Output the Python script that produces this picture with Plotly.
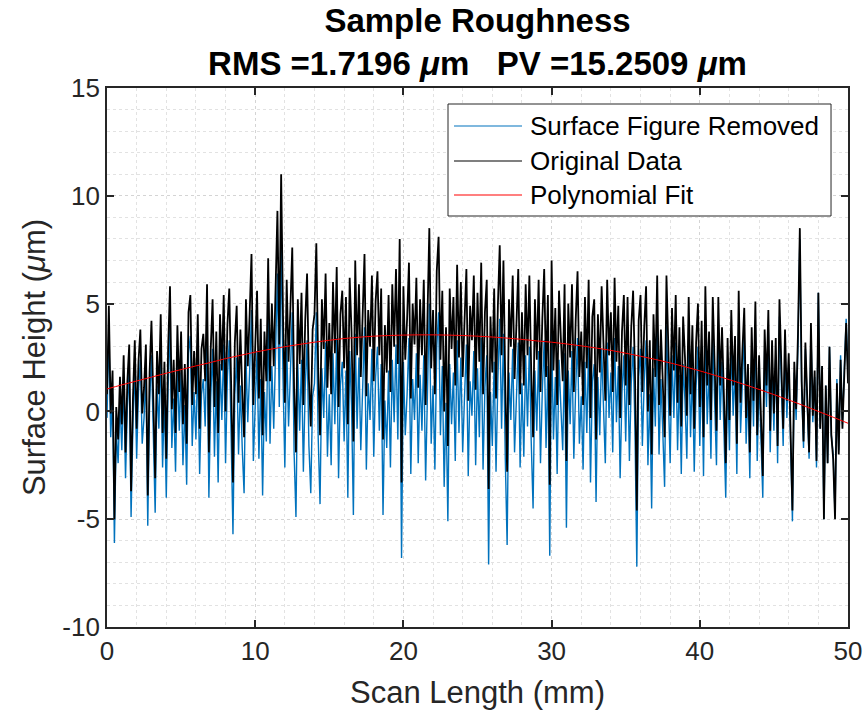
import numpy as np
import plotly.graph_objects as go

# ---------------- data ----------------
scan_length = np.linspace(0, 50, 401)  # mm, sample positions

surface_removed = [
    -0.3, 3.8, -1.2, 0.8, -6.1, -0.9, -2.4, 0.5,
    -1.8, 1.4, -3.1, 0.2, 1.9, -4.9, -0.6, 2.1,
    -2.2, 0.9, 2.4, -1.5, -0.3, 1.7, -5.3, 0.4,
    2.6, -1.9, -4.7, 1.2, -0.8, 2.9, -2.6, 0.7,
    -4.0, 1.1, 4.0, -1.7, 0.6, -2.8, 2.2, -0.9,
    1.8, -2.5, 0.3, -3.4, 2.7, 3.5, -1.6, 0.9,
    -1.3, 2.4, -2.9, 0.8, 1.5, -0.7, 3.8, -4.0,
    0.6, 2.9, -2.1, 1.4, -3.3, 2.2, -0.4, 3.1,
    -2.4, 1.6, 3.3, -1.1, -5.7, 0.8, 2.5, -2.0,
    1.2, -1.7, -3.8, 2.6, -0.5, 1.9, 4.7, -2.3,
    0.4, 2.8, -2.2, 1.5, -3.9, 0.9, -1.4, 4.3,
    -1.5, 2.1, -0.8, 3.0, 6.4, 0.2, 8.1, 1.6,
    -2.6, 3.1, -0.7, 1.8, 4.6, -1.9, -4.9, 2.2,
    -0.9, 2.4, -2.8, 1.1, 3.3, -1.6, -3.8, 0.7,
    1.3, 4.6, -1.2, -4.3, 2.0, -0.3, 3.2, -2.1,
    0.8, -2.5, 2.7, -0.6, 3.4, -3.1, 1.2, 2.3,
    -1.4, 1.9, -4.0, 2.8, 0.3, -4.8, 3.6, -0.8,
    2.5, -1.8, 0.9, 3.9, -2.7, 1.3, -0.4, 2.9,
    -2.1, 1.6, 3.0, -0.9, 2.2, -4.8, 0.5, -1.7,
    1.9, -2.6, 2.4, -0.5, 3.1, -1.3, 4.5, -6.8,
    2.3, -1.1, 0.8, 3.4, -2.9, 1.5, -0.4, 2.7,
    -2.4, 1.7, -0.9, 2.6, -3.2, 0.6, 5.0, -1.5,
    1.2, -2.7, 3.0, 4.6, -1.1, 2.1, -3.5, 0.4,
    -5.1, 2.2, -0.6, 1.8, -2.3, 3.3, -1.0, 2.5,
    -1.9, 0.7, 3.1, -3.0, 1.4, -0.2, 2.8, -2.5,
    2.0, -1.2, 3.4, -2.7, 1.1, 2.6, -7.1, 0.9,
    -1.6, 2.3, -2.8, 1.5, 4.3, -0.8, 3.6, -2.2,
    -6.2, 1.8, -0.4, 2.9, -1.9, 0.6, 3.2, -2.6,
    1.3, -2.1, 2.6, -0.7, 3.0, -1.4, -4.5, 1.9,
    -0.9, 2.8, -2.4, 1.0, 3.3, -1.7, 2.1, -6.7,
    3.8, -1.3, 1.6, -2.9, 2.4, 0.2, -1.8, 2.7,
    -5.4, 1.9, -0.6, 2.8, -2.2, 1.1, 3.4, -1.5,
    0.7, -2.7, 2.3, -1.0, 3.1, -3.3, 1.4, 2.2,
    -4.2, 1.6, -1.1, 2.9, 0.4, -2.4, 3.2, -0.3,
    1.8, -1.9, 3.4, -0.5, 2.1, -3.1, 0.9, 2.6,
    -1.4, 2.7, -2.3, 1.3, 3.0, -0.8, -7.2, 1.6,
    2.9, -1.6, 1.4, 3.3, -2.5, 0.8, -4.5, 2.0,
    -0.7, 4.0, -2.0, 1.5, -0.9, -3.5, 4.0, 0.6,
    -2.4, 2.6, -0.3, 3.2, -1.8, 1.7, -2.9, 2.2,
    0.5, -2.2, 3.3, -1.2, 2.0, -2.8, 1.2, 3.0,
    -1.6, 2.4, -3.0, 4.0, -0.6, 1.9, -2.2, 3.5,
    0.9, -2.5, 3.7, -0.4, 2.3, -1.4, -4.0, 1.8,
    -1.8, 3.3, -0.2, 2.1, -2.9, 4.2, -1.0, 1.4,
    3.6, -1.5, 1.0, -3.1, 2.7, -0.7, 3.9, -2.3,
    1.6, -1.2, -4.0, 2.8, 0.2, 3.7, -1.9, 2.3,
    -0.9, 2.6, -2.4, 4.4, 0.7, -1.6, 3.0, -0.3,
    2.2, -1.3, -5.1, 1.8, -0.4, 3.1, 8.0, 0.9,
    -1.7, 2.9, 0.4, -2.2, 3.8, -0.5, 1.6, -2.6,
    5.5, -0.8, 2.1, -5.0, 1.2, -2.4, 3.0, -1.1,
    -2.0, -4.8, 1.5, -1.8, 2.6, -0.6, 1.9, 4.3,
    1.8,
]

original_data = [
    0.8, 4.9, -0.1, 1.9, -5.0, 0.2, -1.3, 1.6,
    -0.6, 2.6, -1.9, 1.4, 3.1, -3.7, 0.6, 3.3,
    -0.8, 2.3, 3.8, -0.1, 1.1, 3.1, -3.9, 1.8,
    4.2, -0.3, -3.1, 2.8, 0.8, 4.5, -1.0, 2.3,
    -2.2, 2.9, 5.8, 0.1, 2.4, -1.0, 4.0, 0.9,
    3.7, -0.6, 2.2, -1.5, 4.6, 5.4, 0.3, 2.8,
    0.8, 4.5, -0.8, 2.9, 3.6, 1.4, 5.9, -1.9,
    2.9, 5.2, 0.2, 3.7, -1.0, 4.5, 1.9, 5.4,
    0.0, 4.0, 5.7, 1.3, -3.3, 3.2, 4.9, 0.4,
    3.8, 0.9, -1.2, 5.2, 2.1, 4.5, 7.3, 0.3,
    3.2, 5.6, 0.6, 4.3, -1.1, 3.7, 1.4, 7.1,
    1.4, 5.0, 2.1, 5.9, 9.3, 3.1, 11.0, 4.5,
    0.4, 6.1, 2.3, 4.8, 7.6, 1.1, -1.9, 5.2,
    2.2, 5.5, 0.3, 4.2, 6.4, 1.5, -0.7, 3.8,
    4.5, 7.8, 2.0, -1.1, 5.2, 2.9, 6.4, 1.1,
    4.1, 0.8, 6.0, 2.7, 6.7, 0.2, 4.5, 5.6,
    2.0, 5.3, -0.6, 6.2, 3.7, -1.4, 7.0, 2.6,
    5.9, 1.6, 4.3, 7.3, 0.7, 4.7, 3.0, 6.3,
    1.4, 5.1, 6.5, 2.6, 5.7, -1.3, 4.0, 1.8,
    5.4, 0.9, 5.9, 3.0, 6.6, 2.2, 8.0, -3.3,
    5.8, 2.4, 4.3, 6.9, 0.6, 5.0, 3.1, 6.2,
    1.1, 5.2, 2.6, 6.1, 0.3, 4.1, 8.5, 2.0,
    4.7, 0.8, 6.5, 8.1, 2.4, 5.6, 0.0, 3.9,
    -1.6, 5.7, 2.9, 5.3, 1.2, 6.8, 2.5, 6.0,
    1.6, 4.2, 6.6, 0.5, 4.9, 3.3, 6.3, 1.0,
    5.5, 2.3, 6.9, 0.8, 4.6, 6.1, -3.6, 4.4,
    1.8, 5.7, 0.6, 4.9, 7.7, 2.6, 7.0, 1.2,
    -2.8, 5.2, 3.0, 6.3, 1.5, 4.0, 6.6, 0.8,
    4.6, 1.2, 5.9, 2.6, 6.3, 1.9, -1.2, 5.2,
    2.4, 6.1, 0.9, 4.3, 6.6, 1.6, 5.4, -3.4,
    7.0, 1.9, 4.8, 0.3, 5.6, 3.4, 1.4, 5.9,
    -2.3, 5.0, 2.5, 5.9, 0.9, 4.2, 6.5, 1.6,
    3.7, 0.3, 5.3, 2.0, 6.1, -0.3, 4.4, 5.2,
    -1.3, 4.5, 1.8, 5.8, 3.3, 0.5, 6.1, 2.6,
    4.6, 0.9, 6.2, 2.3, 4.9, -0.3, 3.7, 5.4,
    1.2, 5.3, 0.3, 3.9, 5.6, 1.8, -4.6, 4.2,
    5.4, 0.9, 3.9, 5.8, 0.0, 3.3, -2.0, 4.5,
    1.6, 6.3, 0.3, 3.8, 1.4, -1.2, 6.3, 2.9,
    -0.2, 4.8, 1.9, 5.4, 0.4, 3.9, -0.7, 4.4,
    2.5, -0.2, 5.3, 0.8, 4.0, -0.8, 3.2, 5.0,
    0.2, 4.2, -1.2, 5.8, 1.2, 3.7, -0.4, 5.3,
    2.5, -0.9, 5.3, 1.2, 3.9, 0.2, -2.4, 3.4,
    -0.4, 4.7, 1.2, 3.5, -1.5, 5.6, 0.4, 2.8,
    4.8, -0.3, 2.2, -1.9, 3.9, 0.5, 5.1, -1.1,
    2.6, -0.2, -3.0, 3.8, 1.2, 4.7, -0.9, 3.3,
    -0.1, 3.4, -1.6, 5.2, 1.5, -0.8, 3.8, 0.5,
    2.7, -0.8, -4.6, 2.3, 0.1, 3.6, 8.5, 1.4,
    -1.4, 3.2, 0.7, -1.9, 4.1, -0.2, 1.9, -2.3,
    5.5, -0.8, 2.1, -5.0, 1.2, -2.4, 3.0, -1.1,
    -2.2, -5.0, 1.3, -2.0, 2.4, -0.8, 1.7, 4.1,
    1.3,
]

fit_x = list(range(0, 51))
fit_values = [
    1.04, 1.23, 1.41, 1.59, 1.77, 1.94, 2.11, 2.27, 2.45, 2.60,
    2.75, 2.88, 3.00, 3.11, 3.21, 3.30, 3.38, 3.44, 3.49, 3.52,
    3.54, 3.55, 3.55, 3.54, 3.52, 3.49, 3.45, 3.40, 3.34, 3.27,
    3.21, 3.13, 3.04, 2.94, 2.83, 2.70, 2.56, 2.41, 2.25, 2.07,
    1.88, 1.68, 1.47, 1.25, 1.02, 0.78, 0.53, 0.27, 0.00, -0.27,
    -0.55,
]

x_tick_vals = [0, 10, 20, 30, 40, 50]
x_tick_text = ["0", "10", "20", "30", "40", "50"]
y_tick_vals = [-10, -5, 0, 5, 10, 15]
y_tick_text = ["-10", "-5", "0", "5", "10", "15"]

series_names = ["Surface Figure Removed", "Original Data", "Polynomial Fit"]
series_colors = ["#0072BD", "#000000", "#FF0000"]

title_text = ("Sample Roughness<br>RMS =1.7196 <i>\u03bc</i>m\u00a0\u00a0\u00a0"
              "PV =15.2509 <i>\u03bc</i>m")

# ---------------- figure ----------------
FONT = "Liberation Sans, Arial, Helvetica, sans-serif"
AX = "#262626"

fig = go.Figure()
fig.add_trace(go.Scatter(x=scan_length, y=surface_removed, mode="lines",
                         name=series_names[0], showlegend=False,
                         line=dict(color=series_colors[0], width=1.4)))
fig.add_trace(go.Scatter(x=scan_length, y=original_data, mode="lines",
                         name=series_names[1], showlegend=False,
                         line=dict(color=series_colors[1], width=1.8)))
fig.add_trace(go.Scatter(x=fit_x, y=fit_values, mode="lines",
                         name=series_names[2], showlegend=False,
                         line=dict(color=series_colors[2], width=1, shape="spline")))

grid_major = "#d4d4d4"
grid_minor = "#e2e2e2"

common_axis = dict(
    ticks="inside", ticklen=7, tickwidth=1.5, tickcolor=AX,
    showline=True, linecolor=AX, linewidth=1.8, mirror="ticks",
    showgrid=True, gridcolor=grid_major, griddash="dot", gridwidth=1,
    zeroline=False, tickmode="array", automargin=False,
    tickfont=dict(family=FONT, size=26, color=AX),
)

fig.update_layout(
    width=865, height=715,
    margin=dict(l=107, r=17, t=88, b=88, autoexpand=False),
    paper_bgcolor="white", plot_bgcolor="white",
    font=dict(family=FONT, color=AX),
    showlegend=False,
    title=dict(text=title_text, x=0.5, xref="paper", xanchor="center",
               y=0.955, yref="container", yanchor="top", automargin=False,
               font=dict(family=FONT, size=33, color="#000000", weight="bold")),
    xaxis=dict(range=[0, 50], tickvals=x_tick_vals, ticktext=x_tick_text,
               minor=dict(tickmode="linear", tick0=0, dtick=2, showgrid=True,
                          gridcolor=grid_minor, griddash="dot", ticks=""),
               title=dict(text="Scan Length (mm)",
                          font=dict(family=FONT, size=31, color=AX), standoff=16),
               **common_axis),
    yaxis=dict(range=[-10, 15], tickvals=y_tick_vals, ticktext=y_tick_text,
               minor=dict(tickmode="linear", tick0=0, dtick=1, showgrid=True,
                          gridcolor=grid_minor, griddash="dot", ticks=""),
               title=dict(text="Surface Height (<i>\u03bc</i>m)",
                          font=dict(family=FONT, size=31, color=AX), standoff=7),
               **common_axis),
)

# ---------------- legend (MATLAB style box) ----------------
leg_x0, leg_x1, leg_y0, leg_y1 = 0.4602, 0.9771, 0.7625, 0.9703
fig.add_shape(type="rect", xref="paper", yref="paper",
              x0=leg_x0, x1=leg_x1, y0=leg_y0, y1=leg_y1,
              line=dict(color="#262626", width=1), fillcolor="white", layer="above")
row_y = [0.9295, 0.8646, 0.8015]
for name, color, ry in zip(series_names, series_colors, row_y):
    fig.add_shape(type="line", xref="paper", yref="paper",
                  x0=0.4683, x1=0.5601, y0=ry, y1=ry,
                  line=dict(color=color, width=1.2), layer="above")
    fig.add_annotation(xref="paper", yref="paper", x=0.5682, y=ry,
                       xanchor="left", yanchor="middle", showarrow=False,
                       text=name, font=dict(family=FONT, size=26, color="#000000"))

fig.write_html("out.html",
               config={"displayModeBar": False},
               post_script="document.body.style.margin='0';"
                           "document.body.style.overflow='hidden';")
